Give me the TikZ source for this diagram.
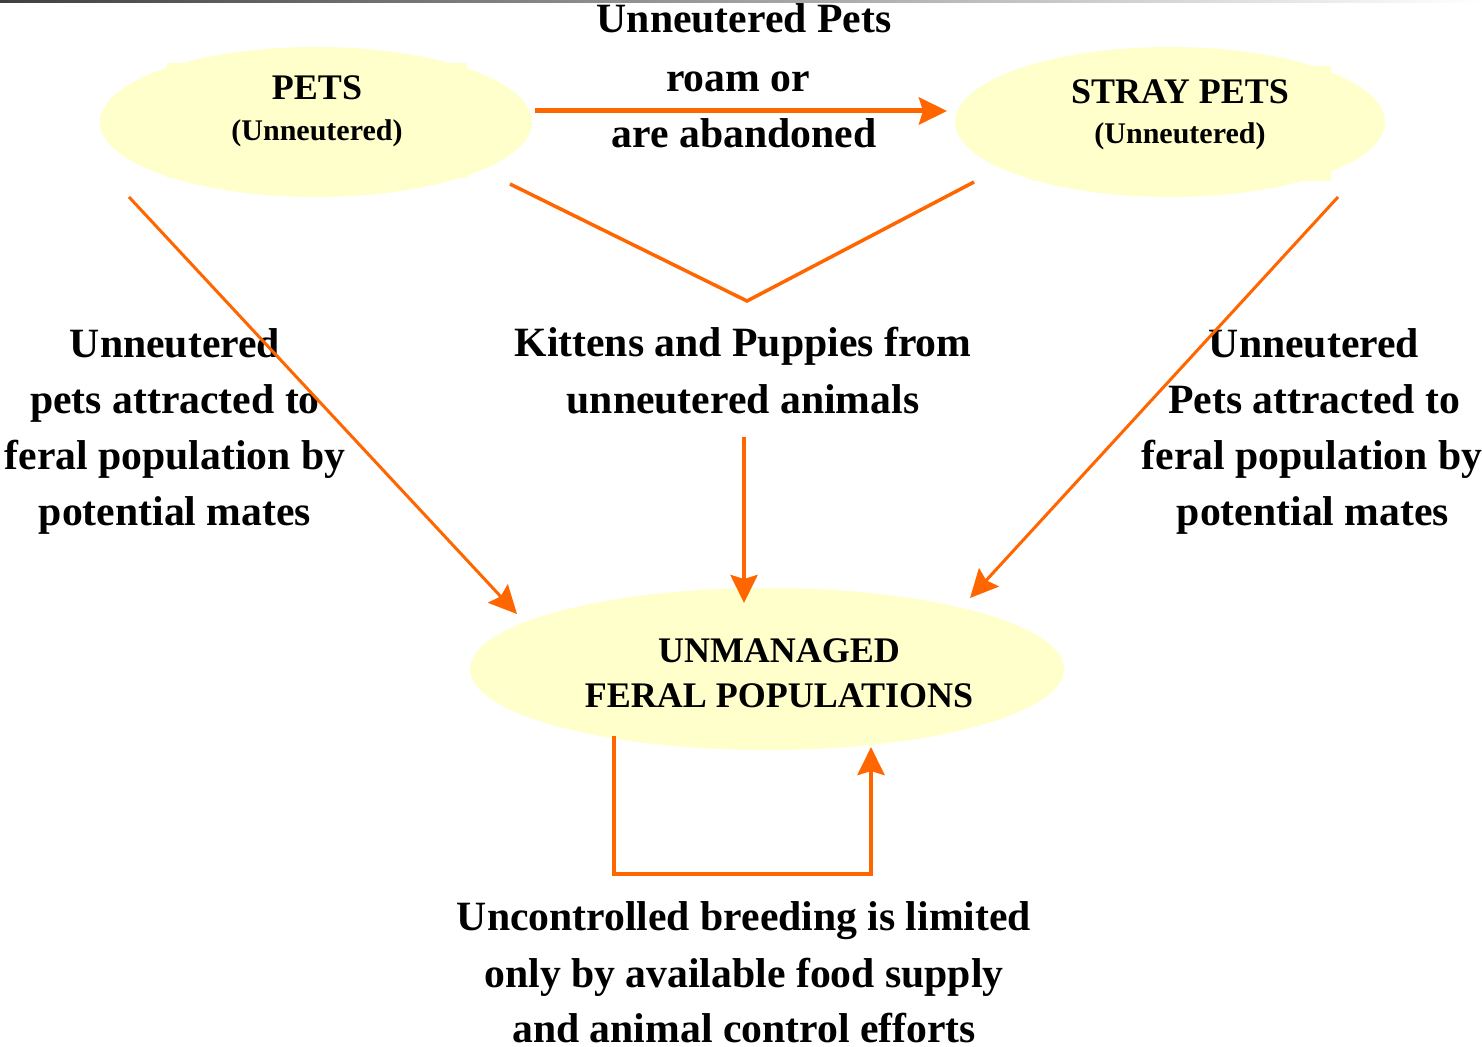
\documentclass[tikz,border=0pt]{standalone}
\usepackage{fontspec}
\setmainfont{Liberation Serif}
\usetikzlibrary{arrows.meta,shapes.geometric}
\definecolor{arrorange}{HTML}{FF6600}
\definecolor{ellfill}{HTML}{FFFFCC}
\begin{document}
\begin{tikzpicture}[x=1pt,y=-1pt,
  blob/.style={ellipse, fill=ellfill, draw=none, inner sep=0pt},
  boxfill/.style={fill=ellfill, draw=none},
  lbl/.style={anchor=base, inner sep=0pt, font=\bfseries\fontsize{41.7}{41.7}\selectfont},
  ttl/.style={anchor=base, inner sep=0pt, font=\bfseries\fontsize{36}{36}\selectfont},
  subttl/.style={anchor=base, inner sep=0pt, font=\bfseries\fontsize{30}{30}\selectfont},
  conn/.style={draw=arrorange, line width=3.5pt},
  arrowtip/.style={-{Stealth[length=28pt,width=27pt,inset=4pt]}},
]
\useasboundingbox (0,0) rectangle (1482,1046);
\fill[white] (0,0) rectangle (1482,1046);
% thin gradient rule at the top
\shade[left color=black!75, right color=white] (0,0) rectangle (1482,2.5);

% ellipses (with their text-box backgrounds)
\fill[boxfill] (167,63) rectangle (467,178);
\fill[boxfill] (1032,66) rectangle (1331,181);
\node[blob, minimum width=432pt, minimum height=150pt] (pets) at (316,122) {};
\node[blob, minimum width=430pt, minimum height=150pt] (stray) at (1170,122) {};
\node[blob, minimum width=594pt, minimum height=162pt] (feral) at (767,669) {};

% ellipse texts
\node[ttl] (petsT) at (317,100) {PETS};
\node[subttl] (petsS) at (317,140) {(Unneutered)};
\node[ttl] (strayT) at (1180,103) {STRAY PETS};
\node[subttl] (strayS) at (1180,143) {(Unneutered)};
\node[ttl] (feralA) at (779,662) {UNMANAGED};
\node[ttl] (feralB) at (779,707) {FERAL POPULATIONS};

% top label
\node[lbl] (topA) at (744,33) {Unneutered Pets};
\node[lbl] (topB) at (738,92) {roam or};
\node[lbl] (topC) at (744,147) {are abandoned};

% centre label
\node[lbl] (midA) at (743,356) {Kittens and Puppies from};
\node[lbl] (midB) at (743,413) {unneutered animals};

% left label
\node[lbl] (leftA) at (175,357) {Unneutered};
\node[lbl] (leftB) at (175,413) {pets attracted to};
\node[lbl] (leftC) at (175,469) {feral population by};
\node[lbl] (leftD) at (175,525) {potential mates};

% right label
\node[lbl] (rightA) at (1314,357) {Unneutered};
\node[lbl] (rightB) at (1314,413) {Pets attracted to};
\node[lbl] (rightC) at (1312,469) {feral population by};
\node[lbl] (rightD) at (1313,525) {potential mates};

% bottom label
\node[lbl] (botA) at (744,930) {Uncontrolled breeding is limited};
\node[lbl] (botB) at (744,987) {only by available food supply};
\node[lbl, text depth=0pt] (botC) at (744,1042) {and animal control efforts};

% connector end points
\coordinate (topS) at (535,111);
\coordinate (topE) at (947,111);
\coordinate (vL) at (510,184);
\coordinate (vM) at (747,301);
\coordinate (vR) at (974,182);
\coordinate (cS) at (744,437);
\coordinate (cE) at (744,603);
\coordinate (dLs) at (129,197);
\coordinate (dLe) at (517,614);
\coordinate (dRs) at (1338,197);
\coordinate (dRe) at (970,598);
\coordinate (lpA) at (614,736);
\coordinate (lpB) at (614,874);
\coordinate (lpC) at (871,874);
\coordinate (lpD) at (871,747);

% connectors
\draw[conn, line width=5pt, arrowtip] (topS) -- (topE);
\draw[conn, line width=3.5pt, miter limit=10] (vL) -- (vM) -- (vR);
\draw[conn, line width=4pt, arrowtip] (cS) -- (cE);
\draw[conn, line width=3pt, arrowtip] (dLs) -- (dLe);
\draw[conn, line width=3pt, arrowtip] (dRs) -- (dRe);
\draw[conn, line width=4.5pt, arrowtip] (lpA) -- (lpB) -- (lpC) -- (lpD);
\end{tikzpicture}
\end{document}
